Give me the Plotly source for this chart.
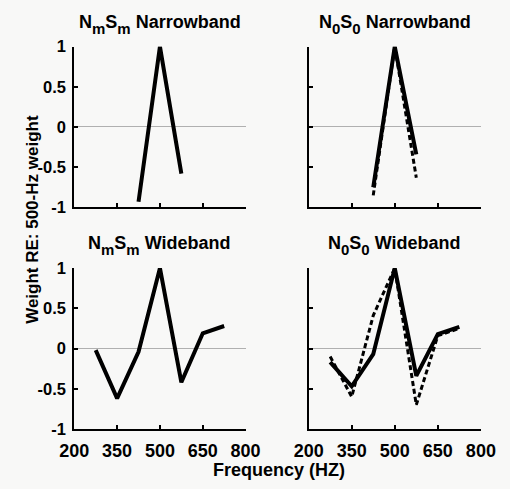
import plotly.graph_objects as go

# Frequencies of the analysis bands (Hz)
freq_narrow = [425, 500, 575]
freq_wide = [275, 350, 425, 500, 575, 650, 725]

# Relative weights (re: 500-Hz weight)
nmsm_narrow = [-0.93, 1.0, -0.58]
nmsm_wide = [-0.02, -0.62, -0.04, 1.0, -0.42, 0.19, 0.28]
n0s0_narrow_solid = [-0.75, 1.0, -0.34]
n0s0_narrow_dash = [-0.85, 1.0, -0.63]
n0s0_wide_solid = [-0.17, -0.47, -0.07, 1.0, -0.34, 0.18, 0.27]
n0s0_wide_dash = [-0.10, -0.60, 0.41, 1.0, -0.70, 0.16, 0.25]

x_ticks = [200, 350, 500, 650, 800]
y_ticks = [-1, -0.5, 0, 0.5, 1]
y_tick_text = ["-1", "-0.5", "0", "0.5", "1"]


def sub(s):
    # deeper, larger subscript than plotly's default
    return f'<sub><sub><span style="font-size:15px">{s}</span></sub></sub>'


panel_titles = [
    f"N{sub('m')}S{sub('m')} Narrowband",
    f"N{sub('0')}S{sub('0')} Narrowband",
    f"N{sub('m')}S{sub('m')} Wideband",
    f"N{sub('0')}S{sub('0')} Wideband",
]

W, H = 510, 489
FONT = "Arial, 'Liberation Sans', sans-serif"

# panel boxes in pixels: (left, right, top, bottom)
boxes = [(63, 245, 39, 206), (312, 495, 39, 206), (63, 245, 269, 436), (312, 495, 269, 436)]

fig = go.Figure()
layout = dict(
    width=W, height=H, margin=dict(l=0, r=0, t=0, b=0),
    paper_bgcolor="#f8f8f7", plot_bgcolor="rgba(0,0,0,0)",
    showlegend=False, font=dict(family=FONT, color="black"),
)

for i, (l, r, t, b) in enumerate(boxes):
    n = i + 1
    xa = "xaxis" if n == 1 else f"xaxis{n}"
    ya = "yaxis" if n == 1 else f"yaxis{n}"
    bottom_row = i >= 2
    left_col = i % 2 == 0
    layout[xa] = dict(
        domain=[l / W, r / W], range=[200, 800], anchor=f"y{'' if n == 1 else n}",
        tickvals=x_ticks, ticktext=[str(v) for v in x_ticks],
        showticklabels=bottom_row, ticks="inside", ticklen=4, tickwidth=1.5,
        tickcolor="black", showline=True, linecolor="black", linewidth=2,
        showgrid=False, zeroline=False, ticklabelstandoff=4,
        tickfont=dict(size=18, weight="bold", family=FONT),
    )
    layout[ya] = dict(
        domain=[1 - b / H, 1 - t / H], range=[-1, 1], anchor=f"x{'' if n == 1 else n}",
        tickvals=y_ticks, ticktext=y_tick_text,
        showticklabels=left_col, ticks="inside", ticklen=4, tickwidth=1.5,
        tickcolor="black", showline=True, linecolor="black", linewidth=2,
        showgrid=False, zeroline=True, zerolinecolor="#b0b0b0", zerolinewidth=1,
        ticklabelstandoff=3,
        tickfont=dict(size=16.5, weight="bold", family=FONT),
    )

fig.update_layout(**layout)


def add(x, y, n, dash=False):
    fig.add_trace(go.Scatter(
        x=x, y=y, mode="lines",
        line=dict(color="black", width=3 if dash else 4, dash="5px,3px" if dash else "solid"),
        xaxis="x" if n == 1 else f"x{n}", yaxis="y" if n == 1 else f"y{n}",
    ))


add(freq_narrow, nmsm_narrow, 1)
add(freq_narrow, n0s0_narrow_dash, 2, dash=True)
add(freq_narrow, n0s0_narrow_solid, 2)
add(freq_wide, nmsm_wide, 3)
add(freq_wide, n0s0_wide_dash, 4, dash=True)
add(freq_wide, n0s0_wide_solid, 4)

annotations = []
for (l, r, t, b), txt in zip(boxes, panel_titles):
    annotations.append(dict(
        text=f"<b>{txt}</b>", x=(l + r) / 2 / W, y=1 - (t - 8) / H,
        xref="paper", yref="paper", xanchor="center", yanchor="bottom",
        showarrow=False, font=dict(size=18, family=FONT),
    ))
annotations.append(dict(
    text="<b>Frequency (HZ)</b>", x=280 / W, y=1 - 479 / H, xref="paper", yref="paper",
    xanchor="center", yanchor="middle", showarrow=False, font=dict(size=18, family=FONT),
))
annotations.append(dict(
    text="<b>Weight RE: 500-Hz weight</b>", x=19 / W, y=1 - 218 / H, xref="paper", yref="paper",
    xanchor="center", yanchor="middle", textangle=-90, showarrow=False,
    font=dict(size=17, family=FONT),
))
fig.update_layout(annotations=annotations)

fig.write_html("out.html")
